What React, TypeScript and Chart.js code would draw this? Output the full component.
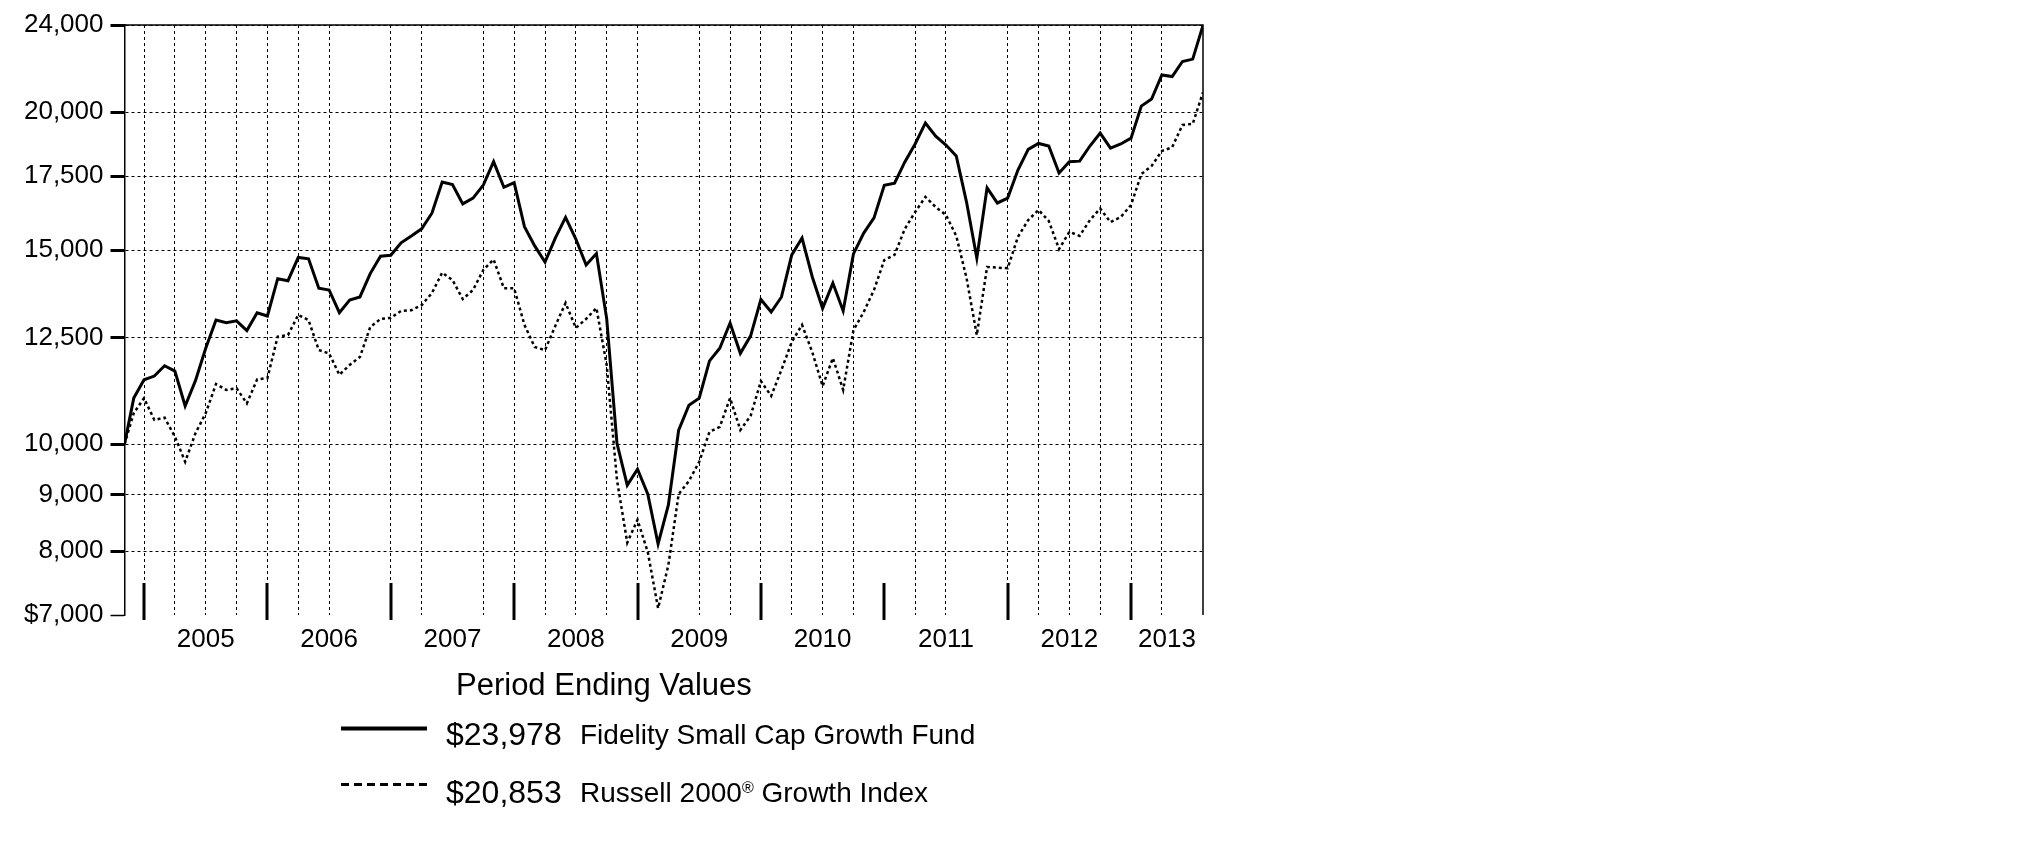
import React, { useEffect, useRef } from 'react';
import { Chart, registerables } from 'chart.js';

Chart.register(...registerables);

const FONT = '"Liberation Sans", Arial, Helvetica, sans-serif';

// Period dates: inception (Nov 3, 2004) then month-ends Nov 2004 .. Jul 2013
const inceptionDate = '2004-11-03';
const firstMonthEnd = { year: 2004, month: 11 };
const lastMonthEnd = { year: 2013, month: 7 };

// Hypothetical $10,000 investment — Fidelity Small Cap Growth Fund
const fundValues = [
  10000,
  11010, 11440,
  11530, 11780, 11650, 10830, 11420, 12220, 12960, 12890, 12940, 12680, 13160, 13070,
  14130, 14070, 14770, 14730, 13850, 13800, 13160, 13510, 13600, 14280, 14810, 14840,
  15230, 15450, 15680, 16200, 17290, 17200, 16520, 16720, 17180, 18040, 17100, 17270,
  15750, 15130, 14630, 15380, 16060, 15350, 14540, 14890, 13000, 10020, 9180, 9490,
  9010, 8120, 8810, 10300, 10850, 11010, 11900, 12220, 12880, 12090, 12540, 13530,
  13180, 13600, 14850, 15380, 14180, 13280, 14000, 13210, 14880, 15540, 16040, 17170,
  17250, 18030, 18720, 19560, 19030, 18680, 18260, 16580, 14750, 17080, 16550, 16720,
  17730, 18510, 18740, 18640, 17620, 18040, 18060, 18640, 19150, 18560, 18720, 18950,
  20260, 20560, 21620, 21550, 22240, 22350, 23978,
];

// Russell 2000 Growth Index
const indexValues = [
  10000,
  10670, 11010,
  10520, 10570, 10160, 9640, 10230, 10670, 11340, 11200, 11240, 10890, 11450, 11480,
  12520, 12560, 13100, 12960, 12170, 12090, 11560, 11800, 12000, 12770, 12990, 13020,
  13210, 13230, 13370, 13710, 14310, 14090, 13540, 13800, 14390, 14710, 13850, 13850,
  12830, 12250, 12170, 12800, 13430, 12750, 12990, 13290, 11800, 9280, 8140, 8540,
  7980, 7100, 7770, 9010, 9260, 9640, 10260, 10370, 11010, 10300, 10610, 11410,
  11060, 11680, 12380, 12830, 12120, 11290, 11970, 11200, 12690, 13180, 13800, 14690,
  14850, 15680, 16240, 16760, 16410, 16140, 15450, 14150, 12560, 14480, 14460, 14440,
  15420, 15970, 16310, 15940, 15030, 15580, 15450, 15970, 16360, 15900, 16070, 16480,
  17580, 17880, 18450, 18590, 19480, 19520, 20853,
];

const yTickValues = [7000, 8000, 9000, 10000, 12500, 15000, 17500, 20000, 24000];
const yearLabels = ['2005', '2006', '2007', '2008', '2009', '2010', '2011', '2012', '2013'];
// label centres (months after Jan 1, 2005)
const yearLabelMonths = [6, 18, 30, 42, 54, 66, 78, 90, 99.5];
// dotted vertical grid lines (months after Jan 1, 2005)
const gridMonths = [0, 3, 6, 9, 12, 15, 18, 24, 27, 33, 36, 39, 42, 45, 48, 54, 57, 60, 63, 66, 69, 75, 78, 84, 87, 90, 93, 96, 99];
// heavy year-boundary marks
const yearBoundaryMonths = [0, 12, 24, 36, 48, 60, 72, 84, 96];

const legendTitle = 'Period Ending Values';
const legendValues = ['$23,978', '$20,853'];
const legendNames = ['Fidelity Small Cap Growth Fund', 'Russell 2000\u00AE Growth Index'];

function daysInMonth(y: number, m: number) {
  return new Date(y, m, 0).getDate();
}
function monthOffset(dateStr: string) {
  const [y, m, d] = dateStr.split('-').map(Number);
  return (y - 2005) * 12 + (m - 1) + d / daysInMonth(y, m);
}
function buildPeriods(): string[] {
  const out = [inceptionDate];
  let y = firstMonthEnd.year;
  let m = firstMonthEnd.month;
  while (y < lastMonthEnd.year || (y === lastMonthEnd.year && m <= lastMonthEnd.month)) {
    out.push(`${y}-${String(m).padStart(2, '0')}-${String(daysInMonth(y, m)).padStart(2, '0')}`);
    m += 1;
    if (m > 12) { m = 1; y += 1; }
  }
  return out;
}
const periods = buildPeriods();
const periodX = periods.map(monthOffset);

const yearMarksPlugin = {
  id: 'yearMarks',
  afterDatasetsDraw(chart: any) {
    const { ctx, chartArea, scales } = chart;
    const xs = scales.x;
    ctx.save();
    ctx.strokeStyle = '#000';
    ctx.lineWidth = 3;
    yearBoundaryMonths.forEach((b) => {
      const px = Math.round(xs.getPixelForValue(b));
      ctx.beginPath();
      ctx.moveTo(px, chartArea.bottom - 32);
      ctx.lineTo(px, chartArea.bottom + 5);
      ctx.stroke();
    });
    ctx.restore();
  },
};

const framePlugin = {
  id: 'frame',
  afterDraw(chart: any) {
    const { ctx, chartArea } = chart;
    ctx.save();
    ctx.strokeStyle = '#000';
    ctx.lineWidth = 1.5;
    ctx.beginPath();
    ctx.moveTo(chartArea.left, chartArea.top);
    ctx.lineTo(chartArea.right, chartArea.top);
    ctx.lineTo(chartArea.right, chartArea.bottom);
    ctx.stroke();
    ctx.restore();
  },
};

export default function App() {
  const canvasRef = useRef<HTMLCanvasElement>(null);

  useEffect(() => {
    if (!canvasRef.current) return;
    const gridSet = new Set(gridMonths);
    const xTickValues = Array.from(new Set([...gridMonths, ...yearLabelMonths])).sort((a, b) => a - b);

    const chart = new Chart(canvasRef.current, {
      type: 'line',
      data: {
        datasets: [
          {
            label: legendNames[0],
            data: fundValues.map((v, i) => ({ x: periodX[i], y: v })),
            borderColor: '#000',
            backgroundColor: '#000',
            borderWidth: 3,
            pointRadius: 0,
            tension: 0,
            fill: false,
          },
          {
            label: legendNames[1],
            data: indexValues.map((v, i) => ({ x: periodX[i], y: v })),
            borderColor: '#000',
            backgroundColor: '#000',
            borderWidth: 2.5,
            borderDash: [3, 3],
            pointRadius: 0,
            tension: 0,
            fill: false,
          },
        ],
      },
      options: {
        responsive: false,
        animation: false,
        events: [],
        layout: { padding: { left: 0, top: 25, right: 822, bottom: 186 } },
        plugins: {
          legend: { display: false },
          tooltip: { enabled: false },
          title: { display: false },
        },
        scales: {
          x: {
            type: 'linear',
            min: periodX[0],
            max: periodX[periodX.length - 1],
            afterBuildTicks: (scale: any) => {
              scale.ticks = xTickValues.map((v) => ({ value: v }));
            },
            afterFit: (scale: any) => {
              scale.height = 50;
            },
            grid: {
              color: (ctx: any) => (ctx.tick && gridSet.has(ctx.tick.value) ? '#000' : 'rgba(0,0,0,0)'),
              lineWidth: 1,
              drawTicks: false,
            },
            border: { display: false, dash: [3, 3] },
            ticks: {
              autoSkip: false,
              maxRotation: 0,
              minRotation: 0,
              padding: 9,
              color: '#000',
              font: { family: FONT, size: 26 },
              callback: (value: any) => {
                const idx = yearLabelMonths.indexOf(Number(value));
                return idx >= 0 ? yearLabels[idx] : '';
              },
            },
          },
          y: {
            type: 'logarithmic',
            min: 7000,
            max: 24000,
            afterBuildTicks: (scale: any) => {
              scale.ticks = yTickValues.map((v) => ({ value: v }));
            },
            afterFit: (scale: any) => {
              scale.width = 124.5;
            },
            grid: {
              color: (ctx: any) => (ctx.tick && ctx.tick.value === 7000 ? 'rgba(0,0,0,0)' : '#000'),
              lineWidth: 1,
              drawTicks: true,
              tickLength: 14,
              tickColor: '#000',
              tickWidth: (ctx: any) => (ctx.tick && ctx.tick.value === 7000 ? 1.5 : 3),
              tickBorderDash: [],
            },
            border: { display: true, color: '#000', width: 1.5, dash: [3, 3] },
            ticks: {
              padding: 7,
              color: '#000',
              font: { family: FONT, size: 26 },
              callback: (value: any) => {
                const v = Number(value);
                const s = v.toLocaleString('en-US');
                return v === 7000 ? '$' + s : s;
              },
            },
          },
        },
      },
      plugins: [yearMarksPlugin, framePlugin],
    } as any);

    return () => chart.destroy();
  }, []);

  const textBase: React.CSSProperties = {
    position: 'absolute',
    fontFamily: FONT,
    color: '#000',
    lineHeight: 1,
    whiteSpace: 'nowrap',
  };

  return (
    <div style={{ position: 'absolute', left: 0, top: 0, width: 2025, height: 851, background: '#fff' }}>
      <canvas
        ref={canvasRef}
        width={2025}
        height={851}
        style={{ position: 'absolute', left: 0, top: 0, width: 2025, height: 851 }}
      />
      <div style={{ ...textBase, left: 456, top: 669, fontSize: 31 }}>{legendTitle}</div>

      <svg style={{ position: 'absolute', left: 340, top: 720, width: 90, height: 80 }} width={90} height={80}>
        <line x1={1} y1={8.5} x2={87} y2={8.5} stroke="#000" strokeWidth={4} />
        <line x1={1} y1={64.5} x2={87} y2={64.5} stroke="#000" strokeWidth={3} strokeDasharray="8 5" />
      </svg>

      <div style={{ ...textBase, left: 446, top: 718, fontSize: 32 }}>{legendValues[0]}</div>
      <div style={{ ...textBase, left: 580, top: 721, fontSize: 28 }}>{legendNames[0]}</div>
      <div style={{ ...textBase, left: 446, top: 776, fontSize: 32 }}>{legendValues[1]}</div>
      <div style={{ ...textBase, left: 580, top: 779, fontSize: 28 }}>
        Russell 2000<sup style={{ fontSize: 16, verticalAlign: 'top', position: 'relative', top: 1 }}>{'\u00AE'}</sup> Growth Index
      </div>
    </div>
  );
}
